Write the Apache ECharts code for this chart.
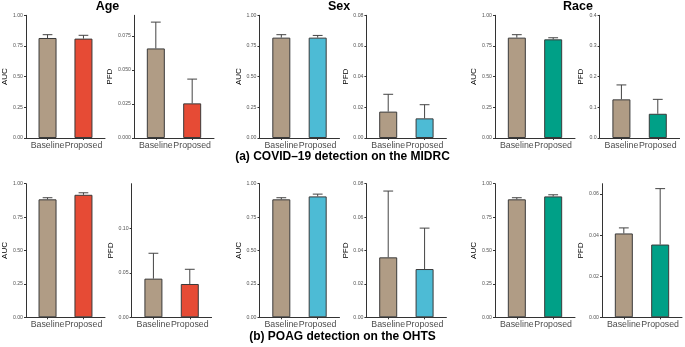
<!DOCTYPE html>
<html>
<head>
<meta charset="utf-8">
<script src="https://cdn.jsdelivr.net/npm/echarts@6/dist/echarts.min.js"></script>
<style>
html,body{margin:0;padding:0;background:#fff;}
#chart{width:685px;height:347px;}
</style>
</head>
<body>
<div id="chart"></div>
<script>
// ---- data ----
const categories = ['Baseline', 'Proposed'];
const attributes = ['Age', 'Sex', 'Race'];
const captions = ['(a) COVID\u201319 detection on the MIDRC', '(b) POAG detection on the OHTS'];

const covidAgeAUC = [0.815, 0.810];   const covidAgeAUCUpper = [0.842, 0.837];
const covidAgePFD = [0.0657, 0.0254]; const covidAgePFDUpper = [0.085, 0.0432];
const covidSexAUC = [0.818, 0.818];   const covidSexAUCUpper = [0.842, 0.836];
const covidSexPFD = [0.0172, 0.0128]; const covidSexPFDUpper = [0.0285, 0.0217];
const covidRaceAUC = [0.818, 0.804];  const covidRaceAUCUpper = [0.842, 0.817];
const covidRacePFD = [0.126, 0.079];  const covidRacePFDUpper = [0.173, 0.126];

const ohtsAgeAUC = [0.883, 0.917];    const ohtsAgeAUCUpper = [0.895, 0.932];
const ohtsAgePFD = [0.0434, 0.0374];  const ohtsAgePFDUpper = [0.0719, 0.0539];
const ohtsSexAUC = [0.883, 0.905];    const ohtsSexAUCUpper = [0.895, 0.922];
const ohtsSexPFD = [0.0359, 0.0289];  const ohtsSexPFDUpper = [0.0756, 0.0534];
const ohtsRaceAUC = [0.883, 0.905];   const ohtsRaceAUCUpper = [0.895, 0.917];
const ohtsRacePFD = [0.0408, 0.0354]; const ohtsRacePFDUpper = [0.0435, 0.0626];

// y-axis tick values
const aucTicks = [0, 0.25, 0.5, 0.75, 1.0];
const covidAgePFDTicks = [0, 0.025, 0.05, 0.075];
const covidSexPFDTicks = [0, 0.02, 0.04, 0.06, 0.08];
const covidRacePFDTicks = [0, 0.1, 0.2, 0.3, 0.4];
const ohtsAgePFDTicks = [0, 0.05, 0.10];
const ohtsSexPFDTicks = [0, 0.02, 0.04, 0.06, 0.08];
const ohtsRacePFDTicks = [0, 0.02, 0.04, 0.06];

// ---- styling / layout ----
const baselineColor = '#B09C85';
const proposedColors = { Age: '#E64B35', Sex: '#4DBBD5', Race: '#00A087' };
const FONT = '"Liberation Sans", Arial, Helvetica, sans-serif';

const rowLayout = [
  { top: 15.3, height: 122.7 },
  { top: 183.7, height: 133.6 }
];
const panelW = 80;

const panels = [
  // row 0
  { row: 0, attr: 'Age', metric: 'AUC', left: 25, vals: covidAgeAUC, upper: covidAgeAUCUpper, max: 1, ticks: aucTicks, dec: 2, gap: 17 },
  { row: 0, attr: 'Age', metric: 'PFD', left: 134, vals: covidAgePFD, upper: covidAgePFDUpper, max: 0.09, ticks: covidAgePFDTicks, dec: 3, gap: 20 },
  { row: 0, attr: 'Sex', metric: 'AUC', left: 259.5, vals: covidSexAUC, upper: covidSexAUCUpper, max: 1, ticks: aucTicks, dec: 2, gap: 17 },
  { row: 0, attr: 'Sex', metric: 'PFD', left: 366.4, vals: covidSexPFD, upper: covidSexPFDUpper, max: 0.08, ticks: covidSexPFDTicks, dec: 2, gap: 17 },
  { row: 0, attr: 'Race', metric: 'AUC', left: 495, vals: covidRaceAUC, upper: covidRaceAUCUpper, max: 1, ticks: aucTicks, dec: 2, gap: 17 },
  { row: 0, attr: 'Race', metric: 'PFD', left: 599.6, vals: covidRacePFD, upper: covidRacePFDUpper, max: 0.4, ticks: covidRacePFDTicks, dec: 1, gap: 15 },
  // row 1
  { row: 1, attr: 'Age', metric: 'AUC', left: 25, vals: ohtsAgeAUC, upper: ohtsAgeAUCUpper, max: 1, ticks: aucTicks, dec: 2, gap: 17 },
  { row: 1, attr: 'Age', metric: 'PFD', left: 131.6, vals: ohtsAgePFD, upper: ohtsAgePFDUpper, max: 0.15, ticks: ohtsAgePFDTicks, dec: 2, gap: 17 },
  { row: 1, attr: 'Sex', metric: 'AUC', left: 259.5, vals: ohtsSexAUC, upper: ohtsSexAUCUpper, max: 1, ticks: aucTicks, dec: 2, gap: 17 },
  { row: 1, attr: 'Sex', metric: 'PFD', left: 366.4, vals: ohtsSexPFD, upper: ohtsSexPFDUpper, max: 0.08, ticks: ohtsSexPFDTicks, dec: 2, gap: 17 },
  { row: 1, attr: 'Race', metric: 'AUC', left: 495, vals: ohtsRaceAUC, upper: ohtsRaceAUCUpper, max: 1, ticks: aucTicks, dec: 2, gap: 17 },
  { row: 1, attr: 'Race', metric: 'PFD', left: 602, vals: ohtsRacePFD, upper: ohtsRacePFDUpper, max: 0.065, ticks: ohtsRacePFDTicks, dec: 2, gap: 17 }
];

const grid = [], xAxis = [], yAxis = [], series = [];

panels.forEach((p, i) => {
  const rl = rowLayout[p.row];
  grid.push({ left: p.left, top: rl.top, width: panelW, height: rl.height, containLabel: false });
  const catPos = categories.map((c, k) => k + 1);
  xAxis.push({
    gridIndex: i, type: 'value', min: 0.4, max: 2.6,
    axisLine: { show: true, lineStyle: { color: '#333', width: 1 } },
    axisTick: { show: true, customValues: catPos, length: 2, lineStyle: { color: '#333', width: 1 } },
    axisLabel: {
      show: true, customValues: catPos, margin: 3,
      formatter: v => categories[Math.round(v) - 1] || '',
      fontFamily: FONT, fontSize: 8.8, color: '#4d4d4d'
    },
    splitLine: { show: false }
  });
  yAxis.push({
    gridIndex: i, type: 'value', min: 0, max: p.max,
    name: p.metric, nameLocation: 'middle', nameGap: p.gap,
    nameTextStyle: { fontFamily: FONT, fontSize: 8, color: '#000' },
    axisLine: { show: true, lineStyle: { color: '#333', width: 1 } },
    axisTick: { show: true, customValues: p.ticks, length: 2, lineStyle: { color: '#333', width: 1 } },
    axisLabel: {
      show: true, customValues: p.ticks, margin: 3,
      formatter: v => Number(v).toFixed(p.dec),
      fontFamily: FONT, fontSize: 5.2, color: '#555'
    },
    splitLine: { show: false }
  });
  const colors = [baselineColor, proposedColors[p.attr]];
  series.push({
    type: 'bar', xAxisIndex: i, yAxisIndex: i, barWidth: 18,
    data: p.vals.map((v, k) => ({
      value: [k + 1, v],
      itemStyle: { color: colors[k], borderColor: '#3a3a3a', borderWidth: 1 }
    })),
    animation: false, silent: true
  });
  series.push({
    type: 'custom', xAxisIndex: i, yAxisIndex: i,
    data: p.vals.map((v, k) => [k + 1, v, p.upper[k]]),
    renderItem: function (params, api) {
      const x = api.value(0);
      const lo = api.coord([x, api.value(1)]);
      const hi = api.coord([x, api.value(2)]);
      const half = api.size([0.135, 0])[0];
      const style = { stroke: '#444', lineWidth: 1, fill: null };
      return {
        type: 'group',
        children: [
          { type: 'line', shape: { x1: lo[0], y1: lo[1], x2: hi[0], y2: hi[1] }, style: style },
          { type: 'line', shape: { x1: hi[0] - half, y1: hi[1], x2: hi[0] + half, y2: hi[1] }, style: style }
        ]
      };
    },
    z: 3, animation: false, silent: true
  });
});

const titleCenters = [107.5, 339, 578];
const graphic = [];
attributes.forEach((a, k) => {
  graphic.push({
    type: 'text', x: titleCenters[k], y: 7,
    style: { text: a, font: 'bold 12.5px ' + FONT, fill: '#000', textAlign: 'center', textVerticalAlign: 'middle' }
  });
});
const captionY = [157, 336.5];
captions.forEach((c, k) => {
  graphic.push({
    type: 'text', x: 342.5, y: captionY[k],
    style: { text: c, font: 'bold 12px ' + FONT, fill: '#000', textAlign: 'center', textVerticalAlign: 'middle' }
  });
});

const chart = echarts.init(document.getElementById('chart'), null, { renderer: 'canvas' });
chart.setOption({
  animation: false,
  backgroundColor: '#fff',
  grid, xAxis, yAxis, series, graphic
});
</script>
</body>
</html>
